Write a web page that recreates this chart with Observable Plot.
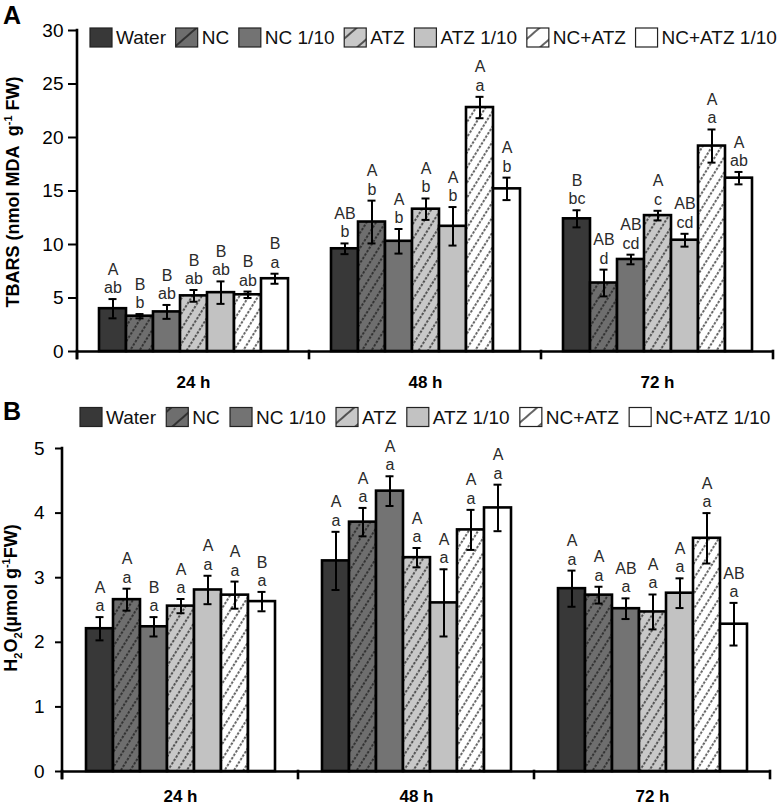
<!DOCTYPE html>
<html><head><meta charset="utf-8">
<script src="https://cdn.jsdelivr.net/npm/d3@7"></script>
<script src="https://cdn.jsdelivr.net/npm/@observablehq/plot@0.6"></script>
<style>
body{margin:0;background:#fff;}
#wrap{position:relative;width:778px;height:808px;overflow:hidden;font-family:"Liberation Sans",Arial,sans-serif;background:#fff;}
#wrap > svg{position:absolute;left:0;}
</style>
</head><body>
<div id="wrap"></div>
<script>
// ---------- data ----------
const series = ["Water", "NC", "NC 1/10", "ATZ", "ATZ 1/10", "NC+ATZ", "NC+ATZ 1/10"];
const times = ["24 h", "48 h", "72 h"];

// Panel A: TBARS (nmol MDA g-1 FW)
const tbarsMean24 = [4.0, 3.3, 3.7, 5.2, 5.5, 5.3, 6.8];
const tbarsMean48 = [9.6, 12.1, 10.3, 13.3, 11.7, 22.8, 15.2];
const tbarsMean72 = [12.4, 6.4, 8.6, 12.7, 10.4, 19.2, 16.2];
const tbarsErr24 = [0.9, 0.2, 0.65, 0.55, 1.05, 0.3, 0.47];
const tbarsErr48 = [0.5, 2.0, 1.15, 1.0, 1.8, 1.0, 1.05];
const tbarsErr72 = [0.8, 1.25, 0.45, 0.45, 0.6, 1.55, 0.58];
const tbarsUpper24 = ["A", "B", "B", "B", "B", "B", "B"];
const tbarsLower24 = ["ab", "b", "ab", "ab", "ab", "ab", "a"];
const tbarsUpper48 = ["AB", "A", "A", "A", "A", "A", "A"];
const tbarsLower48 = ["b", "b", "b", "b", "b", "a", "b"];
const tbarsUpper72 = ["B", "AB", "AB", "A", "AB", "A", "A"];
const tbarsLower72 = ["bc", "d", "cd", "c", "cd", "a", "ab"];
const tbarsTicks = [0, 5, 10, 15, 20, 25, 30];

// Panel B: H2O2 (µmol g-1 FW)
const h2o2Mean24 = [2.21, 2.66, 2.24, 2.56, 2.81, 2.73, 2.63];
const h2o2Mean48 = [3.26, 3.86, 4.34, 3.31, 2.61, 3.74, 4.08];
const h2o2Mean72 = [2.83, 2.73, 2.52, 2.47, 2.76, 3.61, 2.28];
const h2o2Err24 = [0.18, 0.17, 0.15, 0.11, 0.22, 0.21, 0.15];
const h2o2Err48 = [0.45, 0.22, 0.23, 0.15, 0.52, 0.31, 0.36];
const h2o2Err72 = [0.28, 0.13, 0.16, 0.27, 0.23, 0.39, 0.33];
const h2o2Upper24 = ["A", "A", "B", "A", "A", "A", "B"];
const h2o2Lower24 = ["a", "a", "a", "a", "a", "a", "a"];
const h2o2Upper48 = ["A", "A", "A", "A", "A", "A", "A"];
const h2o2Lower48 = ["a", "a", "a", "a", "a", "a", "a"];
const h2o2Upper72 = ["A", "A", "AB", "A", "A", "A", "AB"];
const h2o2Lower72 = ["a", "a", "a", "a", "a", "a", "a"];
const h2o2Ticks = [0, 1, 2, 3, 4, 5];

// ---------- styles ----------
const fills = {
  "Water": "#383838",
  "NC": "url(#hNC)",
  "NC 1/10": "#737373",
  "ATZ": "url(#hATZ)",
  "ATZ 1/10": "#c2c2c2",
  "NC+ATZ": "url(#hMIX)",
  "NC+ATZ 1/10": "#ffffff"
};
const legendFills = {
  "Water": "#383838",
  "NC": "url(#lNC)",
  "NC 1/10": "#737373",
  "ATZ": "url(#lATZ)",
  "ATZ 1/10": "#c2c2c2",
  "NC+ATZ": "url(#lMIX)",
  "NC+ATZ 1/10": "#ffffff"
};

function buildRows(means, errs, uppers, lowers) {
  const rows = [];
  times.forEach((t, ti) => {
    series.forEach((s, si) => {
      rows.push({time: t, series: s, mean: means[ti][si], err: errs[ti][si], upper: uppers[ti][si], lower: lowers[ti][si]});
    });
  });
  return rows;
}

const rowsA = buildRows([tbarsMean24, tbarsMean48, tbarsMean72], [tbarsErr24, tbarsErr48, tbarsErr72],
  [tbarsUpper24, tbarsUpper48, tbarsUpper72], [tbarsLower24, tbarsLower48, tbarsLower72]);
const rowsB = buildRows([h2o2Mean24, h2o2Mean48, h2o2Mean72], [h2o2Err24, h2o2Err48, h2o2Err72],
  [h2o2Upper24, h2o2Upper48, h2o2Upper72], [h2o2Lower24, h2o2Lower48, h2o2Lower72]);

function makePanel(rows, o) {
  const marks = [
    ...series.map(s => Plot.barY(rows.filter(d => d.series === s), {
      fx: "time", x: "series", y: "mean", fill: fills[s], stroke: "#000", strokeWidth: 2.6
    })),
    Plot.ruleY([0], {stroke: "#000", strokeWidth: 2.6}),
    Plot.ruleX(rows, {fx: "time", x: "series", y1: d => d.mean - d.err, y2: d => d.mean + d.err, stroke: "#000", strokeWidth: 2}),
    Plot.tickY(rows, {fx: "time", x: "series", y: d => d.mean + d.err, stroke: "#000", strokeWidth: 2, insetLeft: 9.5, insetRight: 9.5}),
    Plot.tickY(rows, {fx: "time", x: "series", y: d => d.mean - d.err, stroke: "#000", strokeWidth: 2, insetLeft: 9.5, insetRight: 9.5}),
    Plot.text(rows, {fx: "time", x: "series", y: d => d.mean + d.err, text: d => d.upper + "\n" + d.lower,
      lineAnchor: "bottom", dy: -6, lineHeight: 1.15, fontSize: 16, fill: "#2a2a2a"}),
    Plot.axisY({ticks: o.ticks, tickSize: o.tickSize, tickPadding: o.tickPadding, fontSize: 19, strokeWidth: 2, label: null, tickFormat: d => String(d)}),
    Plot.axisFx({anchor: "bottom", tickSize: 0, tickPadding: o.fxPad, fontSize: 17, fontWeight: "bold", label: null})
  ];
  const plot = Plot.plot({
    width: 778, height: o.height,
    marginTop: o.mt, marginBottom: o.mb, marginLeft: o.ml, marginRight: o.mr,
    x: {domain: series, paddingInner: 0, paddingOuter: 0.72, axis: null},
    fx: {domain: times, padding: 0},
    y: {domain: o.yDomain},
    style: {fontFamily: '"Liberation Sans", Arial, sans-serif', color: "#000", background: "transparent", overflow: "visible"},
    marks
  });
  // axis line and group-boundary ticks drawn from the plot's own scales
  const fxS = plot.scale("fx"), yS = plot.scale("y");
  const y0 = yS.apply(0), yTop = yS.apply(o.yDomain[1]);
  const bounds = times.map(t => fxS.apply(t));
  bounds.push(fxS.apply(times[times.length - 1]) + fxS.bandwidth);
  const g = d3.select(plot).append("g").attr("stroke", "#000").attr("stroke-width", 2.6).attr("stroke-linecap", "square");
  g.append("line").attr("x1", bounds[0]).attr("x2", bounds[0]).attr("y1", yTop).attr("y2", y0 + 7);
  bounds.forEach(b => g.append("line").attr("x1", b).attr("x2", b).attr("y1", y0).attr("y2", y0 + 7));
  return plot;
}

const wrap = document.getElementById("wrap");

const plotA = makePanel(rowsA, {height: 390, mt: 30, mb: 39, ml: 77, mr: 5, yDomain: [0, 30], ticks: tbarsTicks, tickSize: 9, tickPadding: 5, fxPad: 24});
plotA.style.top = "0px";
wrap.appendChild(plotA);

const plotB = makePanel(rowsB, {height: 418, mt: 58, mb: 37, ml: 62, mr: 8, yDomain: [0, 5], ticks: h2o2Ticks, tickSize: 7, tickPadding: 11, fxPad: 18});
plotB.style.top = "390px";
wrap.appendChild(plotB);

// ---------- overlay: patterns, panel letters, titles, legends ----------
const ov = d3.select(wrap).append("svg").attr("width", 778).attr("height", 808)
  .style("top", "0px").style("pointer-events", "none")
  .attr("font-family", '"Liberation Sans", Arial, sans-serif');
const defs = ov.append("defs");
function hatch(id, bg, w, angle, dash) {
  const p = defs.append("pattern").attr("id", id).attr("patternUnits", "userSpaceOnUse")
    .attr("width", w).attr("height", w).attr("patternTransform", `rotate(${angle})`);
  p.append("rect").attr("width", w).attr("height", w).attr("fill", bg);
  [0, w].forEach(x => p.append("line").attr("x1", x).attr("x2", x).attr("y1", 0).attr("y2", w)
    .attr("stroke", "#111").attr("stroke-width", 1.3).attr("stroke-dasharray", dash));
}
hatch("hNC", "#6e6e6e", 8, 32, "2.5 1.5");
hatch("hATZ", "#c8c8c8", 8, 32, "2.5 1.5");
hatch("hMIX", "#ffffff", 8, 32, "2.5 1.5");
hatch("lNC", "#6e6e6e", 15, 49, "none");
hatch("lATZ", "#c8c8c8", 15, 49, "none");
hatch("lMIX", "#ffffff", 15, 49, "none");

// panel letters
ov.append("text").attr("x", 3).attr("y", 24).attr("font-size", 25).attr("font-weight", "bold").text("A");
ov.append("text").attr("x", 3).attr("y", 420).attr("font-size", 25).attr("font-weight", "bold").text("B");

// y titles
const tA = ov.append("text").attr("transform", "translate(19,192) rotate(-90)").attr("text-anchor", "middle")
  .attr("font-size", 18).attr("font-weight", "bold").style("white-space", "pre");
tA.append("tspan").text("TBARS (nmol MDA  g");
tA.append("tspan").attr("dy", -7).attr("font-size", 11).text("-1");
tA.append("tspan").attr("dy", 7).text(" FW)");

const tB = ov.append("text").attr("transform", "translate(17,598) rotate(-90)").attr("text-anchor", "middle")
  .attr("font-size", 18).attr("font-weight", "bold").style("white-space", "pre");
tB.append("tspan").text("H");
tB.append("tspan").attr("dy", 5).attr("font-size", 11).text("2");
tB.append("tspan").attr("dy", -5).text("O");
tB.append("tspan").attr("dy", 5).attr("font-size", 11).text("2");
tB.append("tspan").attr("dy", -5).text("(µmol g");
tB.append("tspan").attr("dy", -7).attr("font-size", 11).text("-1");
tB.append("tspan").attr("dy", 7).text("FW)");

// legends
function legend(x0, cy, gap) {
  let x = x0;
  series.forEach(s => {
    ov.append("rect").attr("x", x).attr("y", cy - 9.5).attr("width", 22).attr("height", 19)
      .attr("fill", legendFills[s]).attr("stroke", "#222").attr("stroke-width", 1.2);
    const t = ov.append("text").attr("x", x + 26).attr("y", cy + 6.8).attr("font-size", 19).attr("fill", "#111").text(s);
    x += 26 + t.node().getComputedTextLength() + gap;
  });
}
legend(90, 37.5, 9.7);
legend(80, 417, 10.3);
</script>
</body></html>
